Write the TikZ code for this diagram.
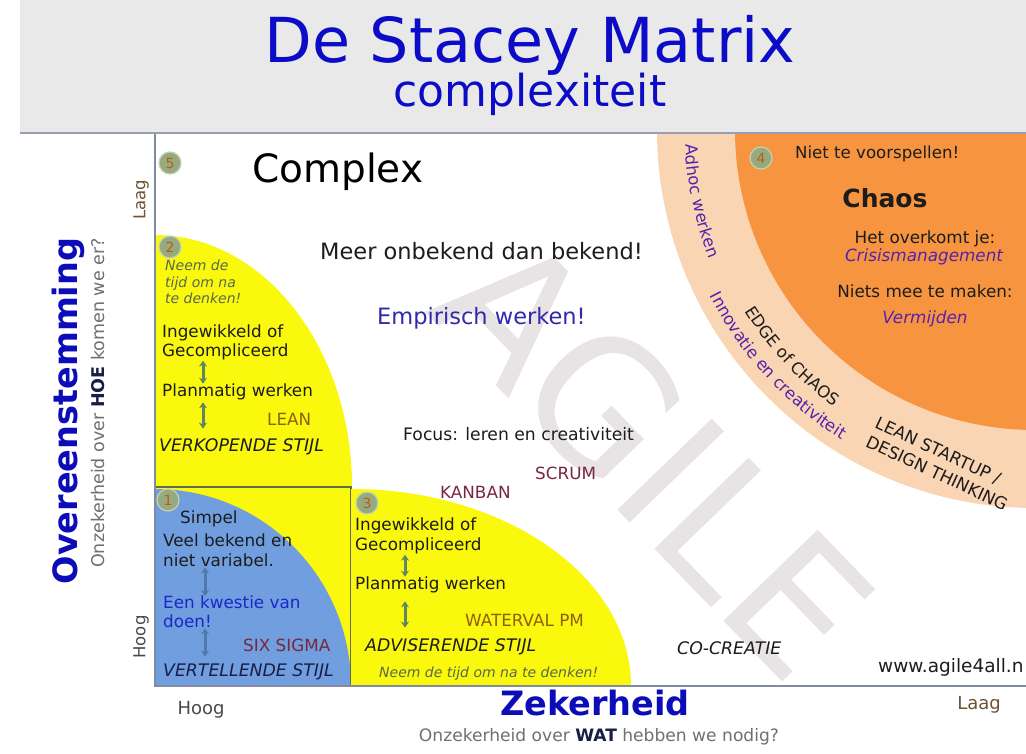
\documentclass[tikz,border=0pt]{standalone}
\usepackage{fontspec}
\setmainfont{DejaVu Sans}
\usetikzlibrary{arrows.meta,decorations.text}
\definecolor{titleblue}{RGB}{12,12,200}
\definecolor{axisblue}{RGB}{12,12,185}
\definecolor{bandgray}{RGB}{233,233,233}
\definecolor{bandline}{RGB}{150,158,176}
\definecolor{axisline}{RGB}{128,138,160}
\definecolor{qyellow}{RGB}{250,248,12}
\definecolor{qblue}{RGB}{112,158,222}
\definecolor{boxline}{RGB}{100,108,80}
\definecolor{chaosorange}{RGB}{246,148,64}
\definecolor{ringpeach}{RGB}{250,213,180}
\definecolor{textdark}{RGB}{28,28,28}
\definecolor{gold}{RGB}{140,96,12}
\definecolor{maroon}{RGB}{120,40,62}
\definecolor{empblue}{RGB}{50,40,170}
\definecolor{crisispurple}{RGB}{85,35,170}
\definecolor{notegreen}{RGB}{88,104,78}
\definecolor{doeblue}{RGB}{25,40,200}
\definecolor{navy}{RGB}{25,30,70}
\definecolor{axisgray}{RGB}{112,112,112}
\definecolor{laagbrown}{RGB}{112,82,52}
\definecolor{badgefill}{RGB}{150,170,128}
\definecolor{badgering}{RGB}{200,208,180}
\definecolor{badgenum}{RGB}{185,95,20}
\definecolor{arrowgreen}{RGB}{95,135,100}
\definecolor{arrowblue}{RGB}{80,120,170}
\definecolor{wmark}{RGB}{232,228,229}
\tikzset{
  txt/.style={inner sep=0pt, text=textdark, font=\fontsize{16.8}{19}\selectfont},
  txt-big/.style={inner sep=0pt, text=textdark, font=\fontsize{22.5}{24}\selectfont},
  txt-it/.style={inner sep=0pt, text=textdark, font=\fontsize{17.3}{19}\selectfont\itshape},
  note-it/.style={inner sep=0pt, text=notegreen, font=\fontsize{14}{16.5}\selectfont\itshape},
  method/.style={inner sep=0pt, font=\fontsize{16.8}{19}\selectfont},
  axis-lbl/.style={inner sep=0pt, font=\fontsize{17.5}{18}\selectfont},
  axis-title/.style={inner sep=0pt, text=axisblue, font=\bfseries\fontsize{33.5}{34}\selectfont},
  badge/.style={circle, fill=badgefill, draw=badgering, line width=1.2pt,
    minimum size=22pt, inner sep=0pt, text=badgenum, font=\fontsize{14}{14}\selectfont},
  twoway/.style={{Stealth[length=6pt,width=8pt]}-{Stealth[length=6pt,width=8pt]},
    line width=3pt, draw=arrowgreen},
  ringtxt/.style={decorate, decoration={text along path, text align=center, text={#1}}}
}
\newcommand{\ringfnt}{\fontsize{16.5}{17}\selectfont}

\begin{document}
\begin{tikzpicture}[x=1pt, y=-1pt]
  \useasboundingbox (0,0) rectangle (1026,754);
  \fill[white] (0,0) rectangle (1026,754);
  % watermark
  \node[rotate=-46, text=wmark, inner sep=0pt,
    font=\fontsize{180}{180}\selectfont] (wm) at (655,455) {AGILE};
  % chaos rings
  \fill[ringpeach] (1035,130) circle[radius=378];
  \fill[chaosorange] (1035,130) circle[radius=300];
  % quadrant 2
  \fill[qyellow] (155,487) -- (155,235)
    arc[start angle=-90, end angle=0, x radius=197, y radius=252] -- cycle;
  % quadrant 1
  \fill[qyellow] (155,487) rectangle (351,686);
  \fill[qblue] (155,686) -- (155,489)
    arc[start angle=-90, end angle=0, x radius=196, y radius=197] -- cycle;
  \draw[boxline, line width=1.2pt] (155,487) rectangle (351,686);
  % quadrant 3
  \fill[qyellow] (351,686) -- (351,489)
    arc[start angle=-90, end angle=0, x radius=280, y radius=197] -- cycle;
  % axes
  \draw[axisline, line width=1.6pt] (155,133) -- (155,686) -- (1026,686);
  % title band
  \fill[bandgray] (20,0) rectangle (1026,133);
  \draw[bandline, line width=2.5pt] (20,133) -- (1026,133);
  \node[anchor=base, inner sep=0pt, text=titleblue, font=\fontsize{62}{62}\selectfont]
    (title) at (530,63) {De Stacey Matrix};
  \node[anchor=base, inner sep=0pt, text=titleblue, font=\fontsize{44}{44}\selectfont]
    (subtitle) at (530,107) {complexiteit};

  % axis labels
  \node[axis-title, rotate=90] (overeen) at (68,411) {Overeenstemming};
  \node[axis-lbl, rotate=90, text=axisgray] (hoe) at (98,403)
    {Onzekerheid over \textbf{\color{navy}HOE} komen we er?};
  \node[axis-lbl, rotate=90, text=laagbrown, font=\fontsize{16.5}{17}\selectfont] (ylaag) at (141,200) {Laag};
  \node[axis-lbl, rotate=90, text=textdark!80, font=\fontsize{16.5}{17}\selectfont] (yhoog) at (141,637) {Hoog};
  \node[axis-lbl, text=textdark!80, font=\fontsize{18}{18}\selectfont] (xhoog) at (201,710) {Hoog};
  \node[axis-title] (zeker) at (595,703) {Zekerheid};
  \node[axis-lbl, text=laagbrown, font=\fontsize{18}{18}\selectfont] (xlaag) at (979,705) {Laag};
  \node[axis-lbl, text=axisgray, font=\fontsize{17.1}{18}\selectfont] (wat) at (599,737)
    {Onzekerheid over \textbf{\color{navy}WAT} hebben we nodig?};

  % complex
  \node[badge] (badge5) at (170,163) {5};
  \node[anchor=west, inner sep=0pt, text=black, font=\fontsize{39}{40}\selectfont]
    (complex) at (252,172) {Complex};
  \node[anchor=west, txt-big] (meer) at (320,251) {Meer onbekend dan bekend!};
  \node[anchor=west, txt-big, text=empblue] (empirisch) at (377,318) {Empirisch werken!};
  \node[anchor=west, txt, font=\fontsize{17.2}{19}\selectfont] (focus) at (403,434)
    {Focus: leren en creativiteit};
  \node[anchor=west, method, text=maroon] (scrum) at (535,473) {SCRUM};
  \node[anchor=west, method, text=maroon] (kanban) at (440,492) {KANBAN};
  \node[anchor=west, txt-it] (cocreatie) at (677,648) {CO-CREATIE};
  \node[anchor=west, txt, font=\fontsize{18.5}{19}\selectfont] (url) at (878,667) {www.agile4all.n};

  % quadrant 2 texts
  \node[badge] (badge2) at (170,247) {2};
  \node[anchor=north west, note-it, align=left] (q2neem) at (165,260)
    {Neem de\\tijd om na\\te denken!};
  \node[anchor=north west, txt, align=left] (q2comp) at (162,325)
    {Ingewikkeld of\\Gecompliceerd};
  \node[anchor=west, txt] (q2plan) at (162,392) {Planmatig werken};
  \node[anchor=west, method, text=gold] (q2lean) at (267,419) {LEAN};
  \node[anchor=west, txt-it] (q2stijl) at (159,447) {VERKOPENDE STIJL};
  \coordinate (q2axis) at (203,0);
  \draw[twoway] (q2comp.south -| q2axis) -- (q2plan.north -| q2axis);
  \draw[twoway, shorten <=2pt, shorten >=10pt] (q2plan.south -| q2axis) -- (q2stijl.north -| q2axis);

  % quadrant 1 texts
  \node[badge] (badge1) at (168,500) {1};
  \node[anchor=west, txt] (q1simpel) at (180,519) {Simpel};
  \node[anchor=north west, txt, align=left, font=\fontsize{16.8}{20}\selectfont] (q1bekend) at (163,534)
    {Veel bekend en\\niet variabel.};
  \node[anchor=north west, txt, text=doeblue, align=left] (q1doen) at (163,596)
    {Een kwestie van\\doen!};
  \node[anchor=west, method, text=maroon] (q1sigma) at (243,645) {SIX SIGMA};
  \node[anchor=west, txt-it, text=navy] (q1stijl) at (163,672) {VERTELLENDE STIJL};
  \coordinate (q1axis) at (205,0);
  \draw[twoway, draw=arrowblue] (q1bekend.south -| q1axis) -- (q1doen.north -| q1axis);
  \draw[twoway, draw=arrowblue, shorten >=7pt] (q1doen.south -| q1axis) -- (q1stijl.north -| q1axis);

  % quadrant 3 texts
  \node[badge] (badge3) at (367,503) {3};
  \node[anchor=north west, txt, align=left, font=\fontsize{16.8}{20}\selectfont] (q3comp) at (355,518)
    {Ingewikkeld of\\Gecompliceerd};
  \node[anchor=west, txt] (q3plan) at (355,585) {Planmatig werken};
  \node[anchor=west, method, text=gold] (q3waterval) at (465,620) {WATERVAL PM};
  \node[anchor=west, txt-it] (q3stijl) at (365,647) {ADVISERENDE STIJL};
  \node[anchor=west, note-it] (q3neem) at (379,674) {Neem de tijd om na te denken!};
  \coordinate (q3axis) at (405,0);
  \draw[twoway] (q3comp.south -| q3axis) -- (q3plan.north -| q3axis);
  \draw[twoway, shorten <=8pt, shorten >=11pt] (q3plan.south -| q3axis) -- (q3stijl.north -| q3axis);

  % chaos texts
  \node[badge] (badge4) at (761,158) {4};
  \node[anchor=west, txt, font=\fontsize{16.6}{18}\selectfont] (chaos-niet) at (795,154) {Niet te voorspellen!};
  \node[inner sep=0pt, text=textdark, font=\bfseries\fontsize{25}{25}\selectfont] (chaos) at (885,198) {Chaos};
  \node[txt] (chaos-overkomt) at (925,239) {Het overkomt je:};
  \node[txt-it, text=crisispurple, font=\fontsize{16.8}{18}\selectfont\itshape] (chaos-crisis) at (924,257) {Crisismanagement};
  \node[txt] (chaos-niets) at (925,291) {Niets mee te maken:};
  \node[txt-it, text=crisispurple, font=\fontsize{16.8}{18}\selectfont\itshape] (chaos-vermijden) at (925,319) {Vermijden};

  % ring texts
  \path[ringtxt={|\ringfnt\color{crisispurple}|Adhoc werken}]
    ([shift={(1035,130)}]190:350) arc[start angle=190, end angle=146, radius=350];
  \path[ringtxt={|\ringfnt\color{textdark}|EDGE of CHAOS}]
    ([shift={(1035,130)}]160:342) arc[start angle=160, end angle=114, radius=342];
  \path[ringtxt={|\ringfnt\color{crisispurple}|Innovatie en creativiteit}]
    ([shift={(1035,130)}]165:365) arc[start angle=165, end angle=110, radius=365];
  \node[rotate=-25, inner sep=0pt, text=textdark, font=\fontsize{17}{17}\selectfont]
    (leanstartup) at (938,451) {LEAN STARTUP /};
  \node[rotate=-25, inner sep=0pt, text=textdark, font=\fontsize{17}{17}\selectfont]
    (design) at (937,473) {DESIGN THINKING};
\end{tikzpicture}
\end{document}
